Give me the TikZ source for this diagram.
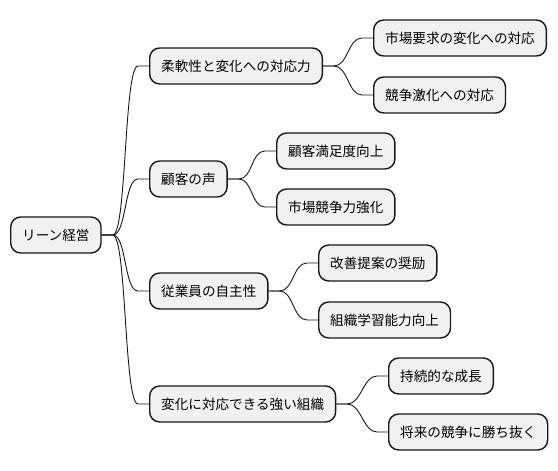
\documentclass[tikz,border=0pt]{standalone}
\usepackage{fontspec}
\newfontfamily\jpfont{Noto Sans CJK JP}
\definecolor{boxfill}{HTML}{F1F1F1}
\definecolor{boxline}{HTML}{181818}
\tikzset{
  mmbox/.style={draw=boxline, fill=boxfill, line width=1.4pt, rounded corners=10pt,
    minimum height=36pt, inner xsep=11.5pt, inner ysep=0pt, anchor=west,
    font=\jpfont\fontsize{13.6}{16}\selectfont, text=black},
  mmline/.style={draw=boxline, line width=0.9pt}
}
\newcommand\mmconn[2]{\draw[mmline] (#1.east) -- ++(11,0) .. controls +(14,0) and +(-14,0) .. ([xshift=-11pt]#2.west) -- (#2.west);}
\begin{document}
\begin{tikzpicture}[x=1pt,y=-1pt]
\useasboundingbox (0,0) rectangle (558,471);
\node[mmbox] (root) at (10,235) {リーン経営};
\node[mmbox] (a) at (149,66) {柔軟性と変化への対応力};
\node[mmbox] (a1) at (373,38) {市場要求の変化への対応};
\node[mmbox] (a2) at (373,95) {競争激化への対応};
\node[mmbox] (b) at (149,179) {顧客の声};
\node[mmbox] (b1) at (276,151) {顧客満足度向上};
\node[mmbox] (b2) at (276,207) {市場競争力強化};
\node[mmbox] (c) at (149,291) {従業員の自主性};
\node[mmbox] (c1) at (318,263) {改善提案の奨励};
\node[mmbox] (c2) at (318,320) {組織学習能力向上};
\node[mmbox] (d) at (149,404) {変化に対応できる強い組織};
\node[mmbox] (d1) at (388,376) {持続的な成長};
\node[mmbox] (d2) at (388,432) {将来の競争に勝ち抜く};
\mmconn{root}{a}
\mmconn{root}{b}
\mmconn{root}{c}
\mmconn{root}{d}
\mmconn{a}{a1}
\mmconn{a}{a2}
\mmconn{b}{b1}
\mmconn{b}{b2}
\mmconn{c}{c1}
\mmconn{c}{c2}
\mmconn{d}{d1}
\mmconn{d}{d2}
\end{tikzpicture}
\end{document}
